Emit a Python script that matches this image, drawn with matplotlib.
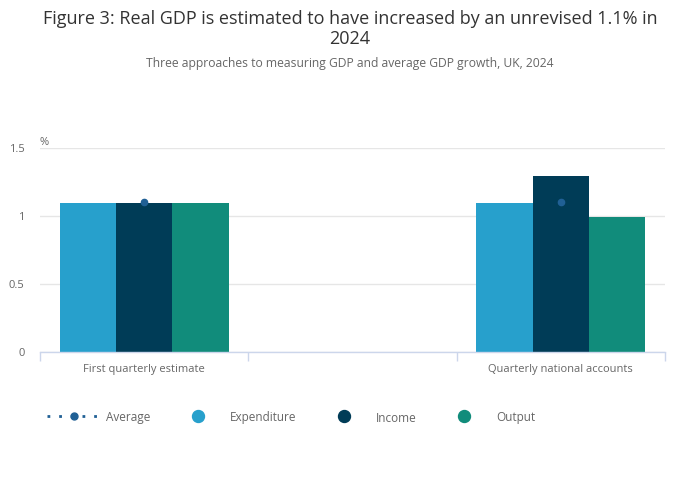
import numpy as np
import matplotlib
matplotlib.use("Agg")
import matplotlib.pyplot as plt
from matplotlib.lines import Line2D

plt.rcParams['font.family'] = ['Open Sans', 'DejaVu Sans']

# data
categories = ["First quarterly estimate", "", "Quarterly national accounts"]
expenditure = [1.09, np.nan, 1.09]
income = [1.09, np.nan, 1.29]
output = [1.09, np.nan, 0.99]
average = [1.1, np.nan, 1.1]

series_names = ["Expenditure", "Income", "Output"]
colors = ["#27a0cc", "#003c57", "#118c7b"]
avg_color = "#206095"
axis_col = "#ccd6eb"
grid_col = "#e6e6e6"
text_col = "#666666"

fig = plt.figure(figsize=(7, 5.02), dpi=100)
ax = fig.add_axes([40 / 700, 1 - 352.5 / 502, 625 / 700, 204 / 502])

x = np.arange(len(categories))
w = 0.27
for i, (vals, c) in enumerate(zip([expenditure, income, output], colors)):
    ax.bar(x + (i - 1) * w, vals, width=w, color=c, linewidth=0, zorder=2)

ax.plot(x, average, linestyle="none", marker="o", markersize=4.5,
        color=avg_color, zorder=3)

ax.set_xlim(-0.5, len(categories) - 0.5)
ax.set_ylim(0, 1.5)
ax.set_yticks([0, 0.5, 1, 1.5])
ax.set_yticklabels(["0", "0.5", "1", "1.5"])
ax.tick_params(axis="y", length=0, pad=11, labelsize=8, labelcolor=text_col)
ax.yaxis.grid(True, color=grid_col, linewidth=1)
ax.set_axisbelow(True)

# band edges as major ticks, labels on the category centres
ax.set_xticks(np.arange(len(categories) + 1) - 0.5)
ax.set_xticklabels([])
ax.set_xticks(x, minor=True)
ax.set_xticklabels(categories, minor=True)
ax.tick_params(axis="x", which="major", length=6.5, color=axis_col, width=1)
ax.tick_params(axis="x", which="minor", length=0, pad=8.5, labelsize=8,
               labelcolor=text_col)

for s in ["top", "right", "left"]:
    ax.spines[s].set_visible(False)
ax.spines["bottom"].set_color(axis_col)
ax.spines["bottom"].set_linewidth(1)

fig.text(40 / 700, 1 - 143 / 502, "%", fontsize=8, color=text_col,
         va="center", ha="left")

fig.text(0.5, 1 - 29 / 502,
         "Figure 3: Real GDP is estimated to have increased by an unrevised 1.1% in\n2024",
         ha="center", va="center", fontsize=13, color="#333333", linespacing=1.1)
fig.text(0.5, 1 - 64 / 502,
         "Three approaches to measuring GDP and average GDP growth, UK, 2024",
         ha="center", va="center", fontsize=8.7, color=text_col)

handles = [Line2D([0], [0], color=avg_color, linestyle=(0, (1, 3.2)), linewidth=2.0,
                  marker="o", markersize=5)]
for c in colors:
    handles.append(Line2D([0], [0], linestyle="none", marker="o",
                          markersize=8.6, color=c))
labels = ["Average"] + series_names

leg = fig.legend(handles, labels, loc="center left",
                 bbox_to_anchor=(47 / 700, 1 - 418 / 502), ncol=4,
                 frameon=False, fontsize=8.5, handlelength=4.5,
                 handletextpad=0.5, columnspacing=1.75, borderpad=0,
                 borderaxespad=0, numpoints=1)
for t in leg.get_texts():
    t.set_color(text_col)

plt.savefig("out.png", dpi=100)
